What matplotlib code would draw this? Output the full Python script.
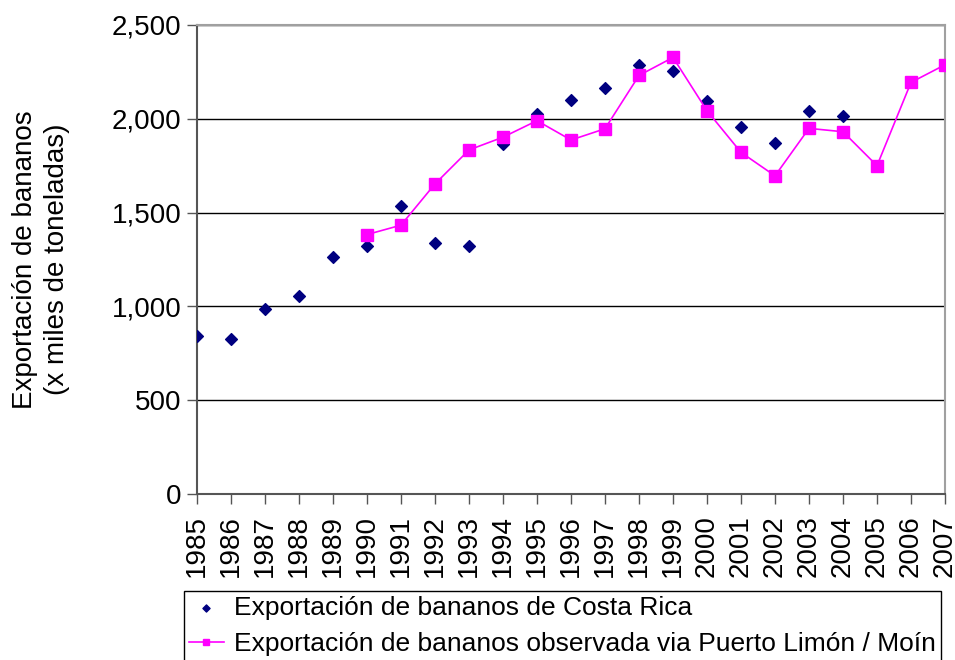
import numpy as np
import matplotlib
matplotlib.use("Agg")
import matplotlib.pyplot as plt
from matplotlib.ticker import FuncFormatter

plt.rcParams['font.family'] = ['Liberation Sans', 'DejaVu Sans']

# Exportación de bananos de Costa Rica (miles de toneladas)
years_cr = list(range(1985, 2005))
export_cr = [840, 825, 985, 1055, 1265, 1322, 1537, 1337, 1322, 1867,
             2027, 2101, 2164, 2288, 2257, 2096, 1958, 1873, 2041, 2015]

# Exportación observada via Puerto Limón / Moín
years_pl = list(range(1990, 2008))
export_pl = [1383, 1433, 1653, 1834, 1902, 1990, 1887, 1947, 2231, 2327,
             2043, 1821, 1696, 1949, 1931, 1750, 2194, 2288]

year_ticks = list(range(1985, 2008))

fig = plt.figure(figsize=(9.55, 6.6), dpi=100)
ax = fig.add_axes([197 / 955, 1 - 494 / 660, 748 / 955, 469 / 660])

ax.scatter(years_cr, export_cr, marker='D', s=36, color='#000080', zorder=3,
           label='Exportación de bananos de Costa Rica')
ax.plot(years_pl, export_pl, color='#FF00FF', lw=1.2, marker='s', ms=8,
        zorder=4, label='Exportación de bananos observada via Puerto Limón / Moín')

ax.set_xlim(1985, 2007)
ax.set_ylim(0, 2500)
ax.set_yticks(np.arange(0, 2501, 500))
ax.yaxis.set_major_formatter(FuncFormatter(lambda v, p: f"{int(v):,}"))
ax.set_xticks(year_ticks)
ax.set_xticklabels([str(y) for y in year_ticks], rotation=90)
ax.tick_params(axis='both', labelsize=20, direction='out', length=7,
               color='#555555', width=1)
ax.tick_params(axis='x', pad=8)
ax.tick_params(axis='y', pad=4)

ax.grid(axis='y', color='black', lw=1)
ax.set_axisbelow(True)
for side in ['left', 'bottom']:
    ax.spines[side].set_color('#555555')
    ax.spines[side].set_linewidth(1.5)
for side in ['top', 'right']:
    ax.spines[side].set_color('#A0A0A0')
    ax.spines[side].set_linewidth(1.5)

ax.set_ylabel('Exportación de bananos\n(x miles de toneladas)', fontsize=20,
              labelpad=30, linespacing=1.3)
# eje x casi oculto por la leyenda, como en el original
ax.set_xlabel('Año', fontsize=20, labelpad=10)

handles, labels = ax.get_legend_handles_labels()
leg = fig.legend(handles, labels, loc='upper left',
                 bbox_to_anchor=(184 / 955, 1 - 591 / 660),
                 fontsize=19, frameon=True, fancybox=False, borderpad=0.2,
                 handlelength=1.3, handletextpad=0.4, labelspacing=0.45,
                 borderaxespad=0, markerscale=0.6)
leg.get_frame().set_edgecolor('black')
leg.get_frame().set_linewidth(1)
leg.get_frame().set_alpha(1)

fig.savefig('out.png', dpi=100)
